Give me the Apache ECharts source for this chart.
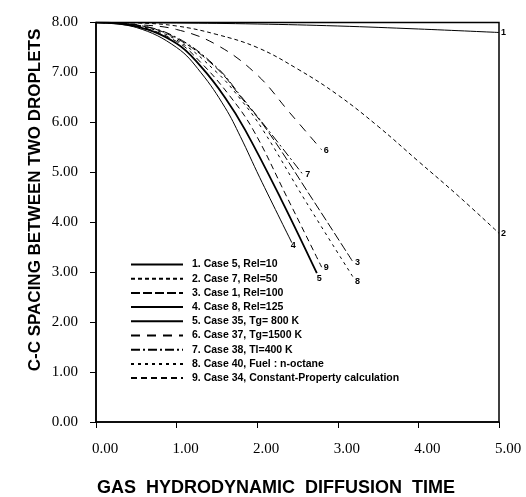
<!DOCTYPE html>
<html>
<head>
<meta charset="utf-8">
<script src="https://cdn.jsdelivr.net/npm/echarts@6/dist/echarts.min.js"></script>
<style>
  html, body { margin: 0; padding: 0; background: #fff; }
  #chart { width: 526px; height: 497px; }
</style>
</head>
<body>
<div id="chart"></div>
<script>
// curves: [time, spacing]
const case1 = [[0, 8], [1, 7.99], [2, 7.97], [3, 7.93], [4, 7.87], [5, 7.8]]
const case2 = [[0, 8], [0.5, 7.99], [1, 7.93], [1.5, 7.76], [2, 7.5], [2.5, 7.07], [3, 6.55], [3.5, 5.92], [4, 5.22], [4.5, 4.52], [5, 3.78]]
const case3 = [[0, 8], [0.5, 7.95], [1, 7.68], [1.5, 7.08], [1.8, 6.5], [2.12, 5.85], [2.69, 4.45], [3.19, 3.2]]
const case4 = [[0, 8], [0.5, 7.9], [1, 7.5], [1.3, 7.0], [1.6, 6.3], [1.79, 5.72], [2.03, 4.9], [2.43, 3.59]]
const case5 = [[0, 8], [0.5, 7.92], [1, 7.58], [1.3, 7.12], [1.6, 6.5], [1.85, 5.85], [2.3, 4.45], [2.74, 2.98]]
const case6 = [[0, 8], [0.5, 7.96], [1, 7.86], [1.5, 7.55], [2, 6.95], [2.4, 6.2], [2.8, 5.45]]
const case7 = [[0, 8], [0.5, 7.95], [1, 7.7], [1.5, 7.1], [1.8, 6.52], [2.12, 5.88], [2.57, 4.95]]
const case8 = [[0, 8], [0.5, 7.94], [1, 7.65], [1.5, 7.0], [1.8, 6.45], [2.07, 5.85], [2.59, 4.45], [3.19, 2.9]]
const case9 = [[0, 8], [0.5, 7.93], [1, 7.62], [1.3, 7.2], [1.65, 6.55], [1.95, 5.85], [2.37, 4.5], [2.8, 3.1]]

const caseNames = [
  '1. Case 5, Rel=10',
  '2. Case 7, Rel=50',
  '3. Case 1, Rel=100',
  '4. Case 8, Rel=125',
  '5. Case 35, Tg= 800 K',
  '6. Case 37, Tg=1500 K',
  '7. Case 38, Tl=400 K',
  '8. Case 40, Fuel : n-octane',
  '9. Case 34, Constant-Property calculation',
]
const endTags = ['1', '2', '3', '4', '5', '6', '7', '8', '9']

const curves = [case1, case2, case3, case4, case5, case6, case7, case8, case9]

// line look per case (dash pattern, width, end tag nudge)
const looks = [
  { type: 'solid', width: 1, offset: [0, 0] },
  { type: [4, 3], width: 1, offset: [0, 0] },
  { type: [9, 3], width: 1, offset: [0, 0] },
  { type: 'solid', width: 1, offset: [-3, 3] },
  { type: 'solid', width: 1.8, offset: [-2, 5] },
  { type: [9, 7], width: 1, offset: [0, 1] },
  { type: [9, 3, 2, 3], width: 1, offset: [0, 0] },
  { type: [3, 4], width: 1, offset: [0, 4] },
  { type: [6, 4], width: 1, offset: [0, 0] },
]

const chart = echarts.init(document.getElementById('chart'), null, { renderer: 'canvas' })

const axisFont = { color: '#000', fontFamily: 'Liberation Serif', fontSize: 15 }

chart.setOption({
  animation: false,
  backgroundColor: '#fff',
  grid: {
    left: 96, right: 27, top: 22.5, bottom: 75,
    show: true, borderColor: '#000', borderWidth: 1.5,
  },
  legend: {
    orient: 'vertical',
    left: 125,
    top: 254,
    itemWidth: 52,
    itemHeight: 12,
    itemGap: 3.2,
    data: caseNames,
    itemStyle: { color: 'transparent', borderWidth: 0, opacity: 0 },
    textStyle: {
      color: '#000',
      fontFamily: 'Liberation Sans',
      fontWeight: 'bold',
      fontSize: 10.5,
      padding: [0, 0, 0, 4],
    },
  },
  xAxis: {
    type: 'value',
    min: 0, max: 5, interval: 1,
    axisLine: { lineStyle: { color: '#000', width: 1.5 } },
    axisTick: { show: true, length: 6, lineStyle: { color: '#000' } },
    splitLine: { show: false },
    axisLabel: {
      ...axisFont,
      margin: 20,
      padding: [0, 0, 0, 18],
      formatter: v => v.toFixed(2),
    },
  },
  yAxis: {
    type: 'value',
    min: 0, max: 8, interval: 1,
    axisLine: { lineStyle: { color: '#000', width: 1.5 } },
    axisTick: { show: true, length: 6, lineStyle: { color: '#000' } },
    splitLine: { show: false },
    axisLabel: {
      ...axisFont,
      margin: 18,
      padding: [0, 0, 11, 0],
      formatter: v => v.toFixed(2),
    },
  },
  graphic: [
    {
      type: 'text',
      x: 35, y: 200,
      rotation: Math.PI / 2,
      style: {
        text: 'C-C SPACING BETWEEN TWO DROPLETS',
        fill: '#000',
        font: 'bold 17px "Liberation Sans"',
        align: 'center', verticalAlign: 'middle',
      },
    },
    {
      type: 'text',
      x: 276, y: 488,
      style: {
        text: 'GAS  HYDRODYNAMIC  DIFFUSION  TIME',
        fill: '#000',
        font: 'bold 18px "Liberation Sans"',
        align: 'center', verticalAlign: 'middle',
      },
    },
  ],
  series: curves.map((pts, i) => ({
    name: caseNames[i],
    type: 'line',
    data: pts,
    smooth: 0.4,
    symbol: 'none',
    lineStyle: { color: '#000', width: looks[i].width, type: looks[i].type },
    itemStyle: { color: '#000' },
    endLabel: {
      show: true,
      formatter: endTags[i],
      distance: 2,
      offset: looks[i].offset,
      color: '#000',
      fontFamily: 'Liberation Sans',
      fontWeight: 'bold',
      fontSize: 9,
    },
  })),
})
</script>
</body>
</html>
